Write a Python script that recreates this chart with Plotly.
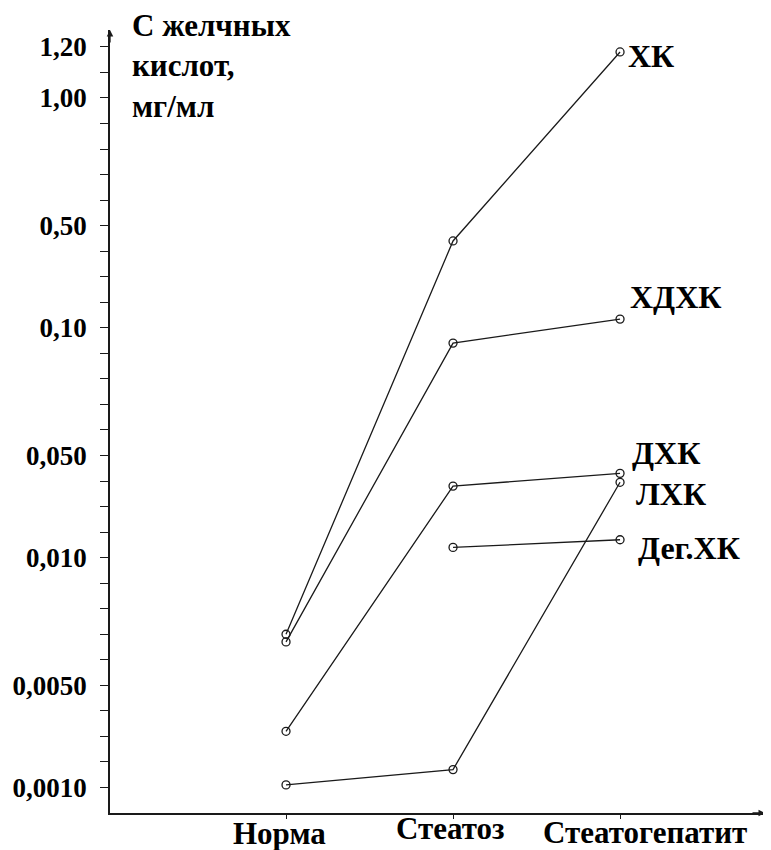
import numpy as np
import plotly.graph_objects as go

# ---- data ----
stages = ["Норма", "Стеатоз", "Стеатогепатит"]

# evenly spaced scale marks of the original quasi-logarithmic axis (mg/ml)
scale_values = [0.001, 0.002, 0.003, 0.004, 0.005, 0.006, 0.007, 0.008, 0.009,
                0.01, 0.02, 0.03, 0.04, 0.05, 0.06, 0.07, 0.08, 0.09,
                0.1, 0.2, 0.3, 0.4, 0.5, 0.6, 0.7, 0.8, 0.9,
                1.0, 1.1, 1.2]
labelled_values = [0.001, 0.005, 0.01, 0.05, 0.1, 0.5, 1.0, 1.2]
labelled_texts = ["0,0010", "0,0050", "0,010", "0,050", "0,10", "0,50", "1,00", "1,20"]

series_names = ["ХК", "ХДХК", "ДХК", "ЛХК", "Дег.ХК"]
hk = [0.007, 0.44, 1.18]
hdhk = [0.0067, 0.094, 0.134]
dhk = [0.0032, 0.038, 0.043]
lhk = [0.0011, 0.0017, 0.0395]
deg_hk = [None, 0.014, 0.017]
series_values = [hk, hdhk, dhk, lhk, deg_hk]

# label offsets (pixels) relative to the last point of each series
label_shift = {"ХК": (6, -4), "ХДХК": (8, 22), "ДХК": (10, 20), "ЛХК": (14, -12), "Дег.ХК": (16, -8)}
# category label offsets (pixels) relative to their tick: (dx, dy)
stage_shift = {"Норма": (-7, -1), "Стеатоз": (-3, 4), "Стеатогепатит": (25, 0)}

# ---- scale transform ----
scale_index = np.arange(len(scale_values))


def to_axis(v):
    return None if v is None else float(np.interp(v, scale_values, scale_index))


x_pos = list(range(len(stages)))
font_family = "Times New Roman, Liberation Serif, DejaVu Serif, Noto Serif, serif"

fig = go.Figure()
for name, vals in zip(series_names, series_values):
    xs = [x for x, v in zip(x_pos, vals) if v is not None]
    ys = [to_axis(v) for v in vals if v is not None]
    real = [v for v in vals if v is not None]
    fig.add_trace(go.Scatter(
        x=xs, y=ys, mode="lines+markers", name=name,
        line=dict(color="#1a1a1a", width=1.3),
        marker=dict(symbol="circle-open", size=8, color="#1a1a1a", line=dict(width=1.3)),
        customdata=real,
        hovertemplate=name + ": %{customdata} мг/мл<extra></extra>",
        showlegend=False,
    ))
    dx, dy = label_shift[name]
    fig.add_annotation(
        x=xs[-1], y=ys[-1], xref="x", yref="y", text="<b>" + name + "</b>", showarrow=False,
        xanchor="left", yanchor="middle", xshift=dx, yshift=dy,
        font=dict(family=font_family, size=32, color="black"),
    )

# category labels under the x axis
for x, s in zip(x_pos, stages):
    dx, dy = stage_shift[s]
    fig.add_annotation(
        x=x, y=0, xref="x", yref="paper", text="<b>" + s + "</b>", showarrow=False,
        xanchor="center", yanchor="top", xshift=dx, yshift=dy,
        font=dict(family=font_family, size=31, color="black"),
    )

tick_text = []
for v in scale_values:
    t = ""
    for lv, lt in zip(labelled_values, labelled_texts):
        if abs(v - lv) < 1e-9:
            t = "<b>" + lt + "</b>"
    tick_text.append(t)

fig.update_layout(
    width=763, height=842,
    margin=dict(l=102, r=6, t=22, b=37, autoexpand=False),
    plot_bgcolor="white", paper_bgcolor="white",
    font=dict(family=font_family, color="black"),
    xaxis=dict(
        range=[-1.054, 2.868], tickvals=x_pos, showticklabels=False,
        showline=True, linecolor="#1a1a1a", linewidth=1.5,
        ticks="outside", ticklen=4, tickcolor="#1a1a1a",
        showgrid=False, zeroline=False, automargin=False,
    ),
    yaxis=dict(
        range=[-1, 29.66], tickvals=list(scale_index), ticktext=tick_text,
        showline=True, linecolor="#1a1a1a", linewidth=1.5,
        ticks="outside", ticklen=8, tickcolor="#1a1a1a",
        showgrid=False, zeroline=False, ticklabelstandoff=8, automargin=False,
        tickfont=dict(family=font_family, size=27, color="black"),
    ),
)

# axis title block
fig.add_annotation(
    xref="paper", yref="paper", x=20 / 655, y=1 + 24 / 783,
    xanchor="left", yanchor="top", align="left", showarrow=False,
    text="<b>С желчных<br>кислот,<br>мг/мл</b>",
    font=dict(family=font_family, size=31, color="black"),
)

# axis arrows
fig.add_annotation(xref="paper", yref="paper", x=1, y=0, ax=-14, ay=0,
                   showarrow=True, arrowhead=2, arrowsize=1, arrowwidth=1.3,
                   arrowcolor="#1a1a1a", text="")
fig.add_annotation(xref="paper", yref="paper", x=0, y=1, ax=0, ay=14,
                   showarrow=True, arrowhead=2, arrowsize=1, arrowwidth=1.3,
                   arrowcolor="#1a1a1a", text="")

fig.write_html("out.html")
